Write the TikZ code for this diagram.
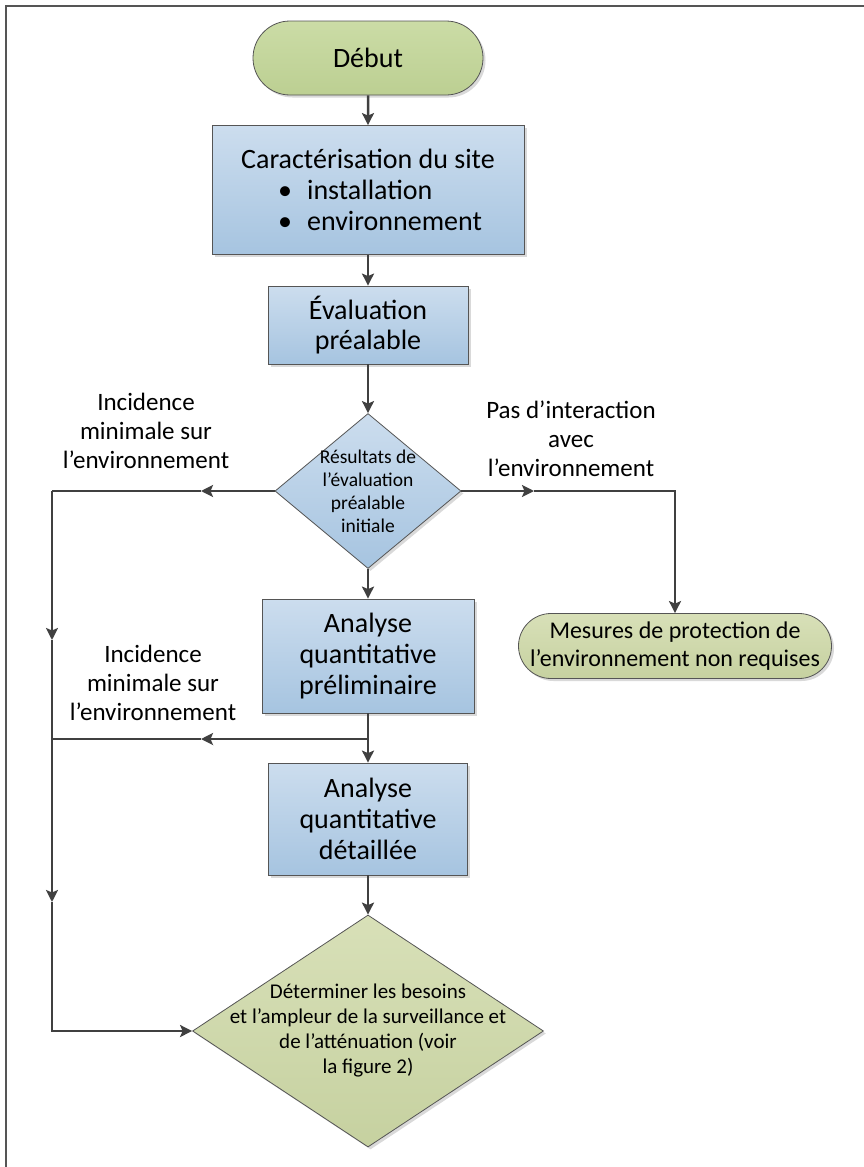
\documentclass[tikz,border=0pt]{standalone}
\usepackage{fontspec}
\setmainfont{Carlito}
\usetikzlibrary{shapes.geometric,shapes.misc,arrows.meta,shadows}
\definecolor{blueTop}{RGB}{204,221,238}
\definecolor{blueBot}{RGB}{166,196,224}
\definecolor{greenTop}{RGB}{203,220,166}
\definecolor{greenBot}{RGB}{188,207,146}
\definecolor{paleTop}{RGB}{216,224,184}
\definecolor{paleBot}{RGB}{198,209,160}
\definecolor{edgegray}{RGB}{85,85,85}
\definecolor{linegray}{RGB}{64,64,64}

\begin{document}
\begin{tikzpicture}[x=1pt,y=-1pt,
  every node/.style={align=center,font=\fontsize{28}{31}\selectfont},
  shade/.style={drop shadow={shadow xshift=2.5pt,shadow yshift=-2.5pt,opacity=0.25,fill=black!60}},
  term/.style={rounded rectangle,draw=edgegray,line width=0.8pt,top color=#1Top,bottom color=#1Bot,inner sep=0pt,shade},
  box/.style={rectangle,draw=edgegray,line width=0.8pt,top color=blueTop,bottom color=blueBot,inner sep=0pt,shade},
  dia/.style={diamond,draw=edgegray,line width=0.8pt,top color=#1Top,bottom color=#1Bot,inner sep=0pt,shade},
  small/.style={font=\fontsize{19.5}{23}\selectfont},
  lbl/.style={font=\fontsize{25}{29}\selectfont},
  line/.style={draw=linegray,line width=2.5pt},
  arr/.style={line,-{Stealth[length=12pt,width=12pt,inset=2.5pt]}}]
\useasboundingbox (0,0) rectangle (864,1167);
\draw[edgegray,line width=1.5pt] (6,1167) -- (6,6) -- (864,6);

\node[term=green,minimum width=230pt,minimum height=74pt] (1) at (368,58) {Début};
\node[box,minimum width=312pt,minimum height=129pt,align=left] (2) at (368,190)
  {Caractérisation du site\\\hspace*{37pt}\textbullet\hspace{15pt}installation\\\hspace*{37pt}\textbullet\hspace{15pt}environnement};
\node[box,minimum width=200pt,minimum height=78pt,font=\fontsize{28}{30}\selectfont] (3) at (368,325) {Évaluation\\préalable};
\node[dia=blue,minimum width=186pt,minimum height=155pt] (4) at (368,491) {};
\node[small] (t4) at (4) {Résultats de\\l’évaluation\\préalable\\initiale};
\node[box,minimum width=212pt,minimum height=114pt] (5) at (368,656) {Analyse\\quantitative\\préliminaire};
\node[box,minimum width=199pt,minimum height=112pt] (6) at (368,819) {Analyse\\quantitative\\détaillée};
\node[dia=pale,minimum width=351pt,minimum height=232pt] (7) at (368,1031) {};
\node[font=\fontsize{21}{25}\selectfont] (t7) at (7) {Déterminer les besoins\\et l’ampleur de la surveillance et\\de l’atténuation (voir\\la figure 2)};
\node[term=pale,minimum width=313pt,minimum height=65pt,font=\fontsize{24}{28}\selectfont] (8) at (675,646)
  {Mesures de protection de\\l’environnement non requises};

\node[lbl] (l1) at (146,431) {Incidence\\minimale sur\\l’environnement};
\node[lbl] (l2) at (571,439) {Pas d’interaction\\avec\\l’environnement};
\node[lbl] (l3) at (153,683) {Incidence\\minimale sur\\l’environnement};

\coordinate (a1) at (201,491);
\coordinate (c1) at (52,491);
\coordinate (a2) at (52,640);
\coordinate (a3) at (52,902);
\coordinate (c2) at (52,1031);
\coordinate (a4) at (534,491);
\coordinate (c3) at (675,491);
\coordinate (j1) at (368,739);
\coordinate (a5) at (201,739);
\coordinate (c4) at (52,739);

\draw[arr] (1) -- (2);
\draw[arr] (2) -- (3);
\draw[arr] (3) -- (4);
\draw[arr] (4) -- (5);
\draw[arr] (5) -- (6);
\draw[arr] (6) -- (7);
\draw[arr] (4.west) -- (a1);
\draw[line] (a1) -- (c1);
\draw[arr] (c1) -- (a2);
\draw[arr] (a2) -- (a3);
\draw[arr] (a3) -- (c2) -- (7.west);
\draw[arr] (4.east) -- (a4);
\draw[arr] (a4) -- (c3) -- (8.north);
\draw[arr] (j1) -- (a5);
\draw[line] (a5) -- (c4);
\end{tikzpicture}
\end{document}
